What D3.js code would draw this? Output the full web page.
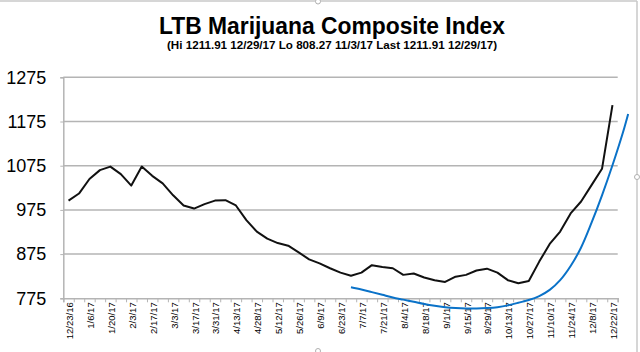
<!DOCTYPE html>
<html>
<head>
<meta charset="utf-8">
<script src="https://cdn.jsdelivr.net/npm/d3@7"></script>
<style>
  html, body { margin: 0; padding: 0; background: #fff; }
  svg { display: block; font-family: "Liberation Sans", Arial, sans-serif; }
</style>
</head>
<body>
<svg id="chart" width="640" height="352"></svg>
<script>
// ---- data ----
const categories = ["12/23/16","12/30/16","1/6/17","1/13/17","1/20/17","1/27/17","2/3/17","2/10/17","2/17/17","2/24/17",
  "3/3/17","3/10/17","3/17/17","3/24/17","3/31/17","4/7/17","4/13/17","4/21/17","4/28/17","5/5/17",
  "5/12/17","5/19/17","5/26/17","6/2/17","6/9/17","6/16/17","6/23/17","6/30/17","7/7/17","7/14/17",
  "7/21/17","7/28/17","8/4/17","8/11/17","8/18/17","8/25/17","9/1/17","9/8/17","9/15/17","9/22/17",
  "9/29/17","10/6/17","10/13/17","10/20/17","10/27/17","11/3/17","11/10/17","11/17/17","11/24/17","12/1/17",
  "12/8/17","12/15/17","12/22/17"];
const indexValues = [996,1012,1045,1065,1073,1056,1030,1073,1052,1035,
  1008,985,978,988,996,997,985,952,926,910,
  900,894,879,863,854,843,833,826,833,850,
  846,843,828,831,822,816,812,824,828,838,
  842,833,816,809,814,858,898,926,967,994,
  1031,1068,1212];
// trendline (at category positions, incl. forecast beyond last category)
const trendPos = [27,28,29,30,31,32,33,34,35,36,37,38,39,40,41,42,43,44,45,46,47,48,49,50,51,52,53,53.5];
const trendValues = [800,795,789,783,777,772,767,762,758,755,753,752,752,753,755,759,765,771,780,794,816,848,890,946,1008,1076,1150,1192];
const yTicks = [775,875,975,1075,1175,1275];
const titleText = "LTB Marijuana Composite Index";
const subtitleText = "(Hi 1211.91 12/29/17 Lo 808.27 11/3/17 Last 1211.91 12/29/17)";

// ---- layout ----
const svg = d3.select("#chart");
const plot = {left: 63.3, right: 617.7, top: 77.3, bottom: 298.3};

const x = d3.scaleLinear().domain([-0.5, categories.length - 0.5]).range([plot.left, plot.right]);
const y = d3.scaleLinear().domain([775, 1275]).range([plot.bottom, plot.top]);

// frame
svg.append("line").attr("x1", 0).attr("x2", 637).attr("y1", 1).attr("y2", 1)
  .attr("stroke", "#c8c8c8").attr("stroke-width", 1.5);
svg.append("line").attr("x1", 637).attr("x2", 637).attr("y1", 1).attr("y2", 352)
  .attr("stroke", "#c8c8c8").attr("stroke-width", 1.5);
[[318, 1.5], [637, 177], [318, 351]].forEach(([cx, cy]) => {
  svg.append("circle").attr("cx", cx).attr("cy", cy).attr("r", 2.5)
    .attr("fill", "#fff").attr("stroke", "#b0b0b0").attr("stroke-width", 1);
});

// titles
svg.append("text").attr("x", 332).attr("y", 34).attr("text-anchor", "middle")
  .attr("font-size", 23).attr("font-weight", "bold").attr("fill", "#000")
  .attr("textLength", 346).attr("lengthAdjust", "spacingAndGlyphs")
  .text(titleText);
svg.append("text").attr("x", 332).attr("y", 49).attr("text-anchor", "middle")
  .attr("font-size", 10.5).attr("font-weight", "bold").attr("fill", "#000")
  .attr("textLength", 330).attr("lengthAdjust", "spacingAndGlyphs")
  .text(subtitleText);

// gridlines
svg.append("g").selectAll("line").data(yTicks.slice(1)).join("line")
  .attr("x1", plot.left).attr("x2", plot.right)
  .attr("y1", d => y(d)).attr("y2", d => y(d))
  .attr("stroke", "#b4b4b4").attr("stroke-width", 1.5);

// y axis
const yAxis = d3.axisLeft(y).tickValues(yTicks).tickSize(3).tickPadding(14).tickFormat(d3.format("d"));
const gy = svg.append("g").attr("transform", `translate(${plot.left},0)`).call(yAxis);
gy.select(".domain").attr("stroke", "#b4b4b4").attr("stroke-width", 1.5);
gy.selectAll(".tick line").attr("stroke", "#b4b4b4");
gy.selectAll(".tick text").attr("font-size", 18).attr("fill", "#000")
  .attr("font-family", "Liberation Sans, Arial, sans-serif");

// x axis: tick marks at category boundaries
const boundaries = d3.range(categories.length + 1).map(i => i - 0.5);
const gx = svg.append("g").attr("transform", `translate(0,${plot.bottom})`)
  .call(d3.axisBottom(x).tickValues(boundaries).tickSize(4).tickFormat(""));
gx.select(".domain").attr("stroke", "#b4b4b4").attr("stroke-width", 1.5);
gx.selectAll(".tick line").attr("stroke", "#b4b4b4");

// x labels every second category
svg.append("g").selectAll("text")
  .data(categories.map((c, i) => ({c, i})).filter(d => d.i % 2 === 0))
  .join("text")
  .attr("transform", d => `translate(${x(d.i) + 4.5},${plot.bottom + 4}) rotate(-90)`)
  .attr("text-anchor", "end")
  .attr("font-size", 9.5).attr("fill", "#000")
  .text(d => d.c);

// index line
const line = d3.line().x((d, i) => x(i)).y(d => y(d));
svg.append("path").datum(indexValues).attr("d", line)
  .attr("fill", "none").attr("stroke", "#111").attr("stroke-width", 2)
  .attr("stroke-linejoin", "round");

// trendline
const tline = d3.line().x(d => x(d[0])).y(d => y(d[1])).curve(d3.curveCatmullRom);
svg.append("path").datum(trendPos.map((p, i) => [p, trendValues[i]])).attr("d", tline)
  .attr("fill", "none").attr("stroke", "#0a72c8").attr("stroke-width", 2);
</script>
</body>
</html>
